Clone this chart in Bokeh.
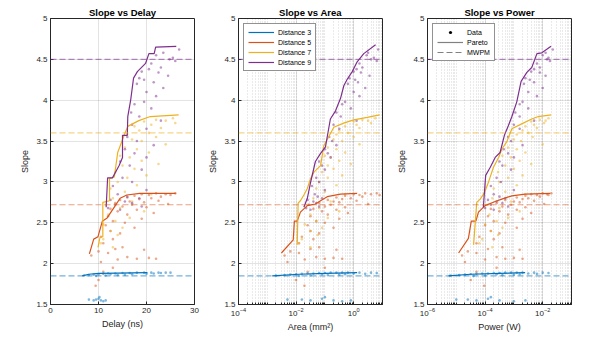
import numpy as np
from bokeh.plotting import figure
from bokeh.layouts import row
from bokeh.models import (Range1d, FixedTicker, Span, Legend, LegendItem,
                          CustomJSTickFormatter, LogTickFormatter)
from bokeh.embed import file_html
from bokeh.resources import INLINE

FONT = "Liberation Sans"
INK = "#262626"

distances = ["Distance 3", "Distance 5", "Distance 7", "Distance 9"]
colors = ["#0072BD", "#D95319", "#EDB120", "#7E2F8E"]
mwpm_slope = [1.85, 2.72, 3.60, 4.50]

# ---------------- scatter data (slope, delay ns, log10 area mm^2, log10 power W) ----------------
d3_slope = [1.855, 1.86, 1.865, 1.87, 1.875, 1.88, 1.88, 1.885, 1.885, 1.89, 1.89, 1.89, 1.89, 1.89, 1.89,
            1.885, 1.875, 1.87, 1.86, 1.855, 1.85, 1.87, 1.865, 1.88,
            1.56, 1.55, 1.57, 1.59, 1.55, 1.54, 1.55, 1.56]
d3_delay = [7.0, 8.0, 9.0, 10.0, 11.0, 12.0, 13.5, 15.0, 16.5, 18.0, 19.5, 21.0, 22.5, 24.0, 25.0,
            23.0, 20.0, 17.0, 14.0, 11.5, 9.5, 12.5, 15.5, 21.5,
            8.0, 9.0, 10.0, 10.2, 10.5, 11.0, 11.5, 9.5]
d3_area_log10 = [-2.7, -2.4, -2.2, -2.0, -1.8, -1.6, -1.4, -1.2, -1.0, -0.8, -0.6, -0.4, -0.2, 0.2, 0.6,
                 0.8, 0.4, -0.3, -0.9, -1.5, -1.9, -1.1, -0.5, 0.0,
                 -2.3, -1.5, -1.1, -1.0, -0.7, -0.4, -0.1, -1.8]
d3_power_log10 = [-5.2, -4.9, -4.7, -4.5, -4.3, -4.1, -3.9, -3.7, -3.5, -3.3, -3.1, -2.9, -2.7, -2.3, -2.0,
                  -1.8, -2.2, -2.8, -3.4, -4.0, -4.4, -3.6, -3.0, -2.5,
                  -5.0, -4.3, -3.9, -3.8, -3.5, -3.0, -2.6, -4.6]

d5_slope = [2.86, 2.86, 2.85, 2.85, 2.84, 2.84, 2.83, 2.82, 2.81, 2.80, 2.79, 2.78, 2.77, 2.76, 2.75,
            2.74, 2.73, 2.72, 2.70, 2.69, 2.67, 2.66, 2.64, 2.62, 2.60, 2.58, 2.55, 2.52, 2.50, 2.47,
            2.44, 2.40, 2.37, 2.33, 2.30, 2.25, 2.20, 2.18, 2.17, 2.15, 2.13, 2.10, 2.08, 2.07, 2.06,
            2.06, 2.05, 2.02, 1.95, 1.90, 1.80, 1.73]
d5_delay = [26.0, 22.0, 24.0, 19.0, 20.5, 25.0, 17.5, 23.0, 16.0, 21.0, 18.5, 14.5, 22.5, 16.5, 19.5,
            13.5, 24.5, 17.0, 15.0, 20.0, 12.5, 18.0, 14.0, 21.5, 16.0, 12.0, 19.0, 13.0, 15.5, 11.5,
            17.5, 12.5, 14.5, 10.5, 13.0, 11.0, 15.0, 13.5, 19.5, 10.0, 12.0, 8.5, 16.0, 20.5, 18.0,
            22.0, 14.0, 10.5, 13.0, 11.0, 10.0, 9.4]
d5_area_log10 = [0.8, 0.4, 0.6, 0.0, 0.2, 0.9, -0.3, 0.3, -0.6, -0.1, -0.4, -0.9, 0.1, -0.7, -0.5,
                 -1.2, 0.5, -0.8, -1.0, -0.3, -1.4, -0.6, -1.1, -0.2, -0.9, -1.5, -0.5, -1.3, -1.0, -1.6,
                 -0.7, -1.5, -1.2, -1.8, -1.4, -1.9, -1.2, -1.5, -0.6, -2.2, -1.9, -2.4, -1.3, -0.7, -1.0,
                 -0.4, -1.7, -2.3, -1.0, -1.6, -2.0, -1.71]
d5_power_log10 = [-1.7, -2.0, -1.85, -2.4, -2.2, -1.8, -2.6, -2.1, -2.9, -2.5, -2.7, -3.3, -2.3, -3.0, -2.8,
                  -3.6, -1.95, -3.1, -3.4, -2.6, -3.8, -2.9, -3.5, -2.4, -3.2, -3.9, -2.7, -3.7, -3.3, -4.0,
                  -2.9, -3.8, -3.5, -4.2, -3.7, -4.3, -3.4, -3.9, -2.8, -4.6, -4.3, -4.8, -3.6, -3.0, -3.3,
                  -2.7, -4.0, -4.7, -3.6, -4.3, -4.5, -4.03]

d7_slope = [3.78, 3.76, 3.75, 3.74, 3.72, 3.70, 3.68, 3.66, 3.63, 3.60, 3.58, 3.55, 3.52, 3.50, 3.46,
            3.42, 3.40, 3.36, 3.32, 3.30, 3.26, 3.22, 3.20, 3.16, 3.12, 3.08, 3.05, 3.00, 2.96, 2.92,
            2.88, 2.85, 2.80, 2.76, 2.72, 2.68, 2.64, 2.60, 2.56, 2.52, 2.48, 2.44, 2.40, 2.35, 2.30,
            2.25, 2.20]
d7_delay = [25.5, 22.0, 24.0, 19.5, 26.0, 21.0, 17.5, 23.0, 18.5, 20.5, 16.0, 22.0, 17.0, 19.0, 24.0,
            15.5, 18.0, 20.5, 14.5, 16.5, 19.0, 22.5, 15.0, 17.5, 13.5, 20.0, 16.0, 14.0, 18.0, 12.5,
            15.5, 21.0, 13.0, 17.0, 11.5, 14.5, 19.5, 12.0, 16.5, 13.5, 11.0, 15.0, 12.5, 14.0, 11.0,
            10.5, 13.0]
d7_area_log10 = [0.75, 0.3, 0.5, 0.0, 0.6, 0.1, -0.3, 0.2, -0.5, -0.2, -0.6, 0.0, -0.7, -0.4, 0.2,
                 -0.9, -0.6, -0.3, -1.0, -0.8, -0.5, -0.1, -0.9, -0.7, -1.1, -0.4, -0.9, -1.2, -0.6, -1.3,
                 -1.0, -0.3, -1.4, -0.8, -1.6, -1.2, -0.5, -1.5, -0.9, -1.3, -1.7, -1.1, -1.5, -1.25, -1.8,
                 -1.9, -1.5]
d7_power_log10 = [-1.8, -2.1, -1.9, -2.4, -1.95, -2.3, -2.6, -2.2, -2.7, -2.5, -2.9, -2.35, -3.0, -2.75, -2.0,
                  -3.2, -2.9, -2.6, -3.4, -3.1, -2.8, -2.4, -3.3, -3.0, -3.55, -2.7, -3.2, -3.5, -2.9, -3.7,
                  -3.3, -2.6, -3.75, -3.1, -3.9, -3.5, -2.8, -3.85, -3.2, -3.6, -4.0, -3.4, -3.8, -3.55, -4.1,
                  -4.2, -3.75]

d9_slope = [4.62, 4.58, 4.55, 4.52, 4.50, 4.48, 4.45, 4.40, 4.38, 4.35, 4.34, 4.30, 4.27, 4.25, 4.22,
            4.20, 4.15, 4.10, 4.05, 3.98, 3.95, 3.90, 3.85, 3.80, 3.75, 3.70, 3.65, 3.55, 3.50, 3.45,
            3.40, 3.35, 3.30, 3.25, 3.20, 3.15, 3.05, 3.00, 2.95, 2.90, 2.85, 2.82, 2.80, 2.78, 2.76,
            2.74, 2.72, 2.70, 2.68, 2.66]
d9_delay = [26.8, 23.5, 22.0, 25.5, 24.8, 26.0, 21.0, 23.0, 20.5, 19.0, 22.5, 24.5, 18.5, 19.5, 21.5,
            18.0, 23.5, 20.0, 22.0, 19.5, 17.5, 21.0, 16.8, 18.5, 23.0, 17.0, 20.0, 16.0, 18.0, 21.5,
            15.5, 17.5, 20.0, 14.5, 16.5, 19.0, 15.0, 17.0, 13.0, 20.0, 14.0, 16.0, 18.5, 12.5, 15.5,
            17.0, 13.5, 19.0, 12.0, 14.5]
d9_area_log10 = [0.85, 0.5, 0.45, 0.7, 0.6, 0.8, 0.2, 0.3, 0.1, 0.0, 0.25, 0.55, -0.15, 0.05, 0.15,
                 -0.2, 0.4, 0.0, 0.2, -0.3, -0.4, -0.1, -0.6, -0.45, 0.1, -0.7, -0.5, -0.85, -0.75, -0.6,
                 -1.0, -0.9, -0.8, -1.2, -1.1, -1.0, -1.3, -1.2, -1.45, -1.0, -1.35, -1.25, -1.1, -1.6, -1.4,
                 -1.3, -1.55, -1.2, -1.65, -1.5]
d9_power_log10 = [-1.65, -1.9, -2.0, -1.8, -1.85, -1.75, -2.2, -2.1, -2.3, -2.4, -2.1, -1.9, -2.6, -2.45, -2.3,
                  -2.65, -2.0, -2.5, -2.2, -2.7, -2.8, -2.5, -2.95, -2.8, -2.3, -3.0, -2.8, -3.2, -3.1, -2.7,
                  -3.35, -3.2, -3.0, -3.5, -3.4, -3.1, -3.6, -3.45, -3.8, -3.0, -3.7, -3.5, -3.3, -3.9, -3.6,
                  -3.4, -3.8, -3.2, -4.0, -3.7]

# ---------------- Pareto fronts ----------------
par_delay_x = [[6.6, 8.0, 10.0, 14.0, 20.2],
               [8.1, 9.0, 9.9, 10.8, 11.8, 13.5, 14.5, 15.9, 18.6, 26.1],
               [9.9, 10.3, 10.9, 10.9, 12.3, 12.3, 13.3, 14.0, 15.4, 16.1, 18.4, 20.8, 26.7],
               [11.6, 11.9, 12.9, 14.3, 15.0, 15.0, 16.0, 16.1, 16.7, 17.3, 18.1, 19.8, 20.5, 21.6, 21.9, 26.2]]
par_delay_y = [[1.85, 1.87, 1.88, 1.885, 1.89],
               [2.12, 2.30, 2.33, 2.52, 2.56, 2.71, 2.80, 2.84, 2.86, 2.86],
               [2.20, 2.32, 2.33, 2.75, 2.77, 3.04, 3.06, 3.36, 3.58, 3.68, 3.75, 3.80, 3.82],
               [2.69, 3.05, 3.05, 3.20, 3.30, 3.57, 3.57, 3.80, 4.00, 4.27, 4.35, 4.45, 4.57, 4.57, 4.65, 4.66]]

par_area_x_log10 = [[-2.83, -1.9, -1.0, 0.12],
                    [-2.51, -2.10, -2.06, -1.96, -1.85, -1.61, -1.33, -1.15, -0.92, -0.46, 0.12],
                    [-1.96, -1.93, -1.85, -1.73, -1.61, -1.50, -1.38, -1.15, -1.04, -0.92, -0.69, -0.35, 0.0, 0.47, 0.90],
                    [-1.73, -1.61, -1.50, -1.33, -1.15, -0.98, -0.81, -0.63, -0.46, -0.34, -0.22, -0.05, 0.12, 0.35, 0.76]]
par_area_y = [[1.85, 1.87, 1.88, 1.89],
              [2.13, 2.29, 2.52, 2.52, 2.63, 2.71, 2.73, 2.77, 2.82, 2.85, 2.86],
              [2.23, 2.74, 2.77, 2.84, 2.92, 3.04, 3.12, 3.20, 3.44, 3.52, 3.67, 3.72, 3.76, 3.79, 3.82],
              [2.69, 2.80, 2.99, 3.25, 3.35, 3.43, 3.77, 3.87, 4.02, 4.18, 4.26, 4.35, 4.47, 4.57, 4.68]]

par_power_x_log10 = [[-5.27, -4.5, -3.5, -2.61],
                     [-4.92, -4.58, -4.48, -4.32, -4.23, -4.00, -3.65, -3.42, -3.07, -2.61, -1.74],
                     [-4.40, -4.29, -4.17, -4.02, -3.88, -3.71, -3.53, -3.42, -3.25, -3.07, -2.73, -2.38, -2.15, -1.71],
                     [-4.06, -3.98, -3.82, -3.65, -3.48, -3.33, -3.19, -3.07, -2.90, -2.75, -2.55, -2.38, -2.20, -2.03, -1.71]]
par_power_y = [[1.85, 1.87, 1.88, 1.89],
               [2.13, 2.31, 2.52, 2.52, 2.63, 2.71, 2.76, 2.79, 2.83, 2.85, 2.86],
               [2.23, 2.75, 2.79, 2.87, 3.00, 3.18, 3.30, 3.40, 3.49, 3.65, 3.71, 3.77, 3.80, 3.82],
               [2.69, 3.08, 3.18, 3.30, 3.36, 3.57, 3.69, 3.80, 3.98, 4.23, 4.34, 4.40, 4.57, 4.58, 4.66]]

y_ticks = [1.5, 2, 2.5, 3, 3.5, 4, 4.5, 5]

scatter_slope = [d3_slope, d5_slope, d7_slope, d9_slope]
scatter_delay = [d3_delay, d5_delay, d7_delay, d9_delay]
scatter_area = [[10 ** v for v in a] for a in [d3_area_log10, d5_area_log10, d7_area_log10, d9_area_log10]]
scatter_power = [[10 ** v for v in a] for a in [d3_power_log10, d5_power_log10, d7_power_log10, d9_power_log10]]
par_area_x = [[10 ** v for v in a] for a in par_area_x_log10]
par_power_x = [[10 ** v for v in a] for a in par_power_x_log10]

NAN = [float("nan")]


def make_fig(title, xlabel, x_range, log, bl, br, major, minor):
    p = figure(frame_width=144, frame_height=286, x_range=x_range, y_range=Range1d(1.5, 5),
               x_axis_type="log" if log else "linear", output_backend="svg", toolbar_location=None,
               min_border_left=bl, min_border_right=br, min_border_top=18, min_border_bottom=4,
               background_fill_color="white", border_fill_color="white")
    p.title.text = title
    p.title.align = "center"
    p.title.text_font = FONT
    p.title.text_font_size = "9.5px"
    p.title.text_font_style = "bold"
    p.title.text_color = "black"
    p.title.standoff = 1
    p.title.offset = 0
    p.outline_line_color = INK
    p.outline_line_width = 1
    p.outline_line_alpha = 1
    for ax in (p.xaxis[0], p.yaxis[0]):
        ax.axis_line_color = INK
        ax.major_tick_in = 3
        ax.major_tick_out = 0
        ax.minor_tick_in = 2
        ax.minor_tick_out = 0
        ax.major_tick_line_color = INK
        ax.minor_tick_line_color = INK
        ax.major_label_text_font = FONT
        ax.major_label_text_font_size = "8px"
        ax.major_label_text_color = INK
        ax.axis_label_text_font = FONT
        ax.axis_label_text_font_size = "9px"
        ax.axis_label_text_font_style = "normal"
        ax.axis_label_text_color = INK
        ax.major_label_standoff = 3
        ax.axis_label_standoff = 3
    p.xaxis.axis_label = xlabel
    p.yaxis.axis_label = "Slope"
    p.yaxis.ticker = FixedTicker(ticks=y_ticks)
    p.yaxis.formatter = CustomJSTickFormatter(code="return tick.toString();")
    p.yaxis.minor_tick_line_color = None
    p.xaxis.ticker = FixedTicker(ticks=major, minor_ticks=minor)
    if log:
        p.xaxis.formatter = LogTickFormatter()
    else:
        p.xaxis.minor_tick_line_color = None
    for g in (p.xgrid[0], p.ygrid[0]):
        g.grid_line_color = INK
        g.grid_line_alpha = 0.13
    if log:
        p.xgrid.minor_grid_line_color = INK
        p.xgrid.minor_grid_line_alpha = 0.2
        p.xgrid.minor_grid_line_dash = "1 2"
    return p


def draw(p, xs_scatter, xs_pareto, ys_pareto):
    for i in range(4):
        p.scatter(xs_scatter[i], scatter_slope[i], size=2.6, marker="circle", fill_color=colors[i],
                  line_color=None, fill_alpha=0.5)
    for i in range(4):
        s = Span(location=mwpm_slope[i], dimension="width", line_color=colors[i], line_alpha=0.55,
                 line_width=1.1, line_dash="6 3")
        p.add_layout(s)
    rends = []
    for i in range(4):
        r = p.line(xs_pareto[i], ys_pareto[i], line_color=colors[i], line_width=1.2)
        rends.append(r)
    return rends


def decade_minors(lo, hi):
    out = []
    for e in range(lo, hi):
        for m in range(1, 10):
            out.append(m * 10.0 ** e)
    out.append(10.0 ** hi)
    return out


p1 = make_fig("Slope vs Delay", "Delay (ns)", Range1d(0, 30), False, 50, 11, [0, 10, 20, 30], [])
draw(p1, scatter_delay, par_delay_x, par_delay_y)

p2 = make_fig("Slope vs Area", "Area (mm²)", Range1d(1e-4, 10), True, 33, 12,
              [1e-4, 1e-2, 1e0], decade_minors(-4, 1))
r2 = draw(p2, scatter_area, par_area_x, par_area_y)
leg2 = Legend(items=[LegendItem(label=distances[i], renderers=[r2[i]]) for i in range(4)],
              location="top_left")
p2.add_layout(leg2)

p3 = make_fig("Slope vs Power", "Power (W)", Range1d(1e-6, 1e-1), True, 33, 10,
              [1e-6, 1e-4, 1e-2], decade_minors(-6, -1))
draw(p3, scatter_power, par_power_x, par_power_y)
rd = p3.scatter(NAN, NAN, marker="circle", size=3, fill_color="black", line_color=None)
rp = p3.line(NAN, NAN, line_color="#808080", line_width=1.2)
rm = p3.line(NAN, NAN, line_color="#808080", line_width=1.2, line_dash="6 3")
leg3 = Legend(items=[LegendItem(label="Data", renderers=[rd]),
                     LegendItem(label="Pareto", renderers=[rp]),
                     LegendItem(label="MWPM", renderers=[rm])],
              location="top_left")
p3.add_layout(leg3)

for leg in (leg2, leg3):
    leg.label_text_font = FONT
    leg.label_text_font_size = "7px"
    leg.label_text_color = "black"
    leg.label_height = 8
    leg.glyph_height = 8
    leg.glyph_width = 26
    leg.spacing = 2
    leg.padding = 4
    leg.margin = 5
    leg.label_standoff = 4
    leg.border_line_color = INK
    leg.border_line_width = 1
    leg.background_fill_alpha = 1

layout = row(p1, p2, p3, spacing=0)
open("out.html", "w").write(file_html(layout, INLINE))
